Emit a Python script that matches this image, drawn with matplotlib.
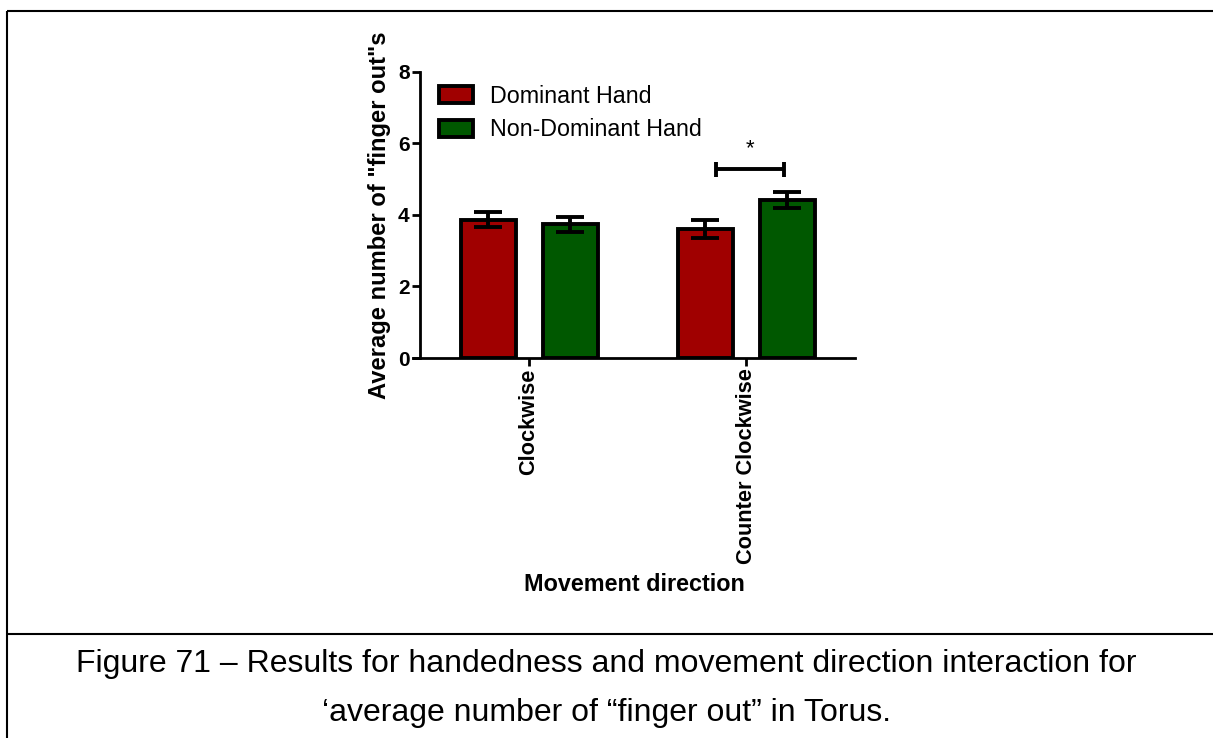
import matplotlib
matplotlib.use("Agg")
import matplotlib.pyplot as plt
import numpy as np
from matplotlib.lines import Line2D
from matplotlib.patches import Patch

plt.rcParams['font.family'] = ['Liberation Sans', 'DejaVu Sans']

categories = ['Clockwise', 'Counter Clockwise']
series_names = ['Dominant Hand', 'Non-Dominant Hand']
dominant_mean = [3.87, 3.60]
dominant_sem = [0.21, 0.26]
non_dominant_mean = [3.74, 4.41]
non_dominant_sem = [0.21, 0.23]
y_ticks = [0, 2, 4, 6, 8]
caption_lines = ['Figure 71 \u2013 Results for handedness and movement direction interaction for',
                 '\u2018average number of \u201cfinger out\u201d in Torus.']

RED = '#a00000'
GREEN = '#005800'

W, H = 1213, 738
fig = plt.figure(figsize=(W / 100, H / 100), dpi=100)
ax = fig.add_axes([413 / W, 1 - 358 / H, 442 / W, 286.3 / H])

x = np.arange(len(categories))
offset = 0.189
width = 0.253
err_kw = dict(elinewidth=2.8, capthick=2.8, capsize=10, ecolor='black')
ax.bar(x - offset, dominant_mean, width, yerr=dominant_sem, color=RED,
       edgecolor='black', linewidth=2.8, error_kw=err_kw, zorder=2)
ax.bar(x + offset, non_dominant_mean, width, yerr=non_dominant_sem, color=GREEN,
       edgecolor='black', linewidth=2.8, error_kw=err_kw, zorder=2)

for side in ('top', 'right'):
    ax.spines[side].set_visible(False)
ax.spines['left'].set_position(('data', -0.502))
for side in ('left', 'bottom'):
    ax.spines[side].set_linewidth(2)

ax.set_xlim(-0.535, 1.502)
ax.set_ylim(0, 8)
ax.set_yticks(y_ticks)
ax.set_yticklabels([str(t) for t in y_ticks], fontsize=15, fontweight='bold')
ax.set_xticks(x)
ax.set_xticklabels(categories, rotation=90, fontsize=15.7, fontweight='bold')
ax.set_xlabel('Movement direction', fontsize=16.8, fontweight='bold', labelpad=6)
ax.set_ylabel('Average number of "finger out"s', fontsize=17.1, fontweight='bold', labelpad=5)
ax.tick_params(axis='both', width=2, length=5.5, pad=2)

# significance bracket between the counter-clockwise bars
bx0, bx1, by = 0.862, 1.175, 5.27
ax.plot([bx0, bx1], [by, by], color='black', lw=2.8, solid_capstyle='butt', zorder=3)
for bx in (bx0, bx1):
    ax.plot([bx, bx], [by - 0.21, by + 0.2], color='black', lw=2.8,
            solid_capstyle='butt', zorder=3)
ax.text((bx0 + bx1) / 2, by + 0.28, '*', ha='center', va='bottom', fontsize=16)

handles = [Patch(facecolor=RED, edgecolor='black', linewidth=2.8),
           Patch(facecolor=GREEN, edgecolor='black', linewidth=2.8)]
fig.legend(handles, series_names, loc='upper left',
           bbox_to_anchor=(439 / W, 1 - 85 / H), frameon=False, fontsize=16.75,
           handlelength=1.45, handleheight=0.75, handletextpad=0.75,
           labelspacing=0.45, borderpad=0, borderaxespad=0)

# page frame and caption
frame_kw = dict(color='black', lw=1.5, transform=fig.transFigure, solid_capstyle='butt')
fig.add_artist(Line2D([7 / W, 1], [1 - 11 / H, 1 - 11 / H], **frame_kw))
fig.add_artist(Line2D([7 / W, 7 / W], [0, 1 - 11 / H], **frame_kw))
fig.add_artist(Line2D([7 / W, 1], [1 - 634 / H, 1 - 634 / H], **frame_kw))
fig.text(606 / W, 1 - 664 / H, caption_lines[0], ha='center', va='center', fontsize=23)
fig.text(607 / W, 1 - 713 / H, caption_lines[1], ha='center', va='center', fontsize=23)

fig.savefig('out.png', dpi=100)
